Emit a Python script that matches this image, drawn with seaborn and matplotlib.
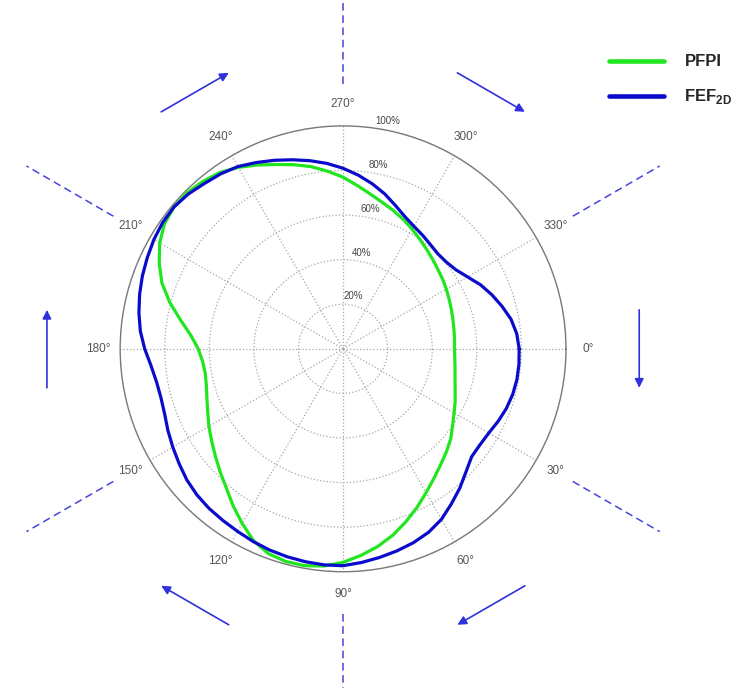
import numpy as np
import pandas as pd
import matplotlib.pyplot as plt
import seaborn as sns
from matplotlib.lines import Line2D

# values (angle in degrees, clockwise from 0 at the right; radius in %)
pfpi_deg = list(range(0, 360, 5))
pfpi_pct = [50, 50.3, 51, 52, 53.5, 55.5, 57.5, 60, 63, 65.5, 68, 71,
            74.5, 78.5, 82.5, 86.5, 90, 93, 95.8, 97.8, 98.8, 98.8, 97.8, 95,
            90.5, 86, 81.5, 78, 74.8, 72, 69.5, 67, 65, 63.5, 62.8, 63.3,
            65, 68.5, 74, 80.5, 86.5, 91, 95, 97.8, 99, 99, 98, 96.5,
            94, 91, 88, 85.5, 83, 80, 77, 73.5, 70.5, 68, 66, 64,
            62, 60, 58.3, 56.8, 55.5, 54.5, 53.5, 52.5, 51.7, 51, 50.5, 50.2]

fef_deg = list(range(0, 360, 5))
fef_pct = [79, 79.2, 79.2, 78.8, 78, 76.8, 75.5, 75, 75.3, 78, 81.5, 84.8,
           88.3, 90.8, 92.5, 93.8, 95, 96.2, 97.3, 97.3, 97, 96.6, 96.1, 95.4,
           94.6, 94, 93.5, 92.7, 91.5, 89.8, 88.2, 86.7, 85.2, 84.6, 85, 86.5,
           89, 91.3, 93, 94.5, 95.8, 96.9, 98, 98.8, 99, 98.2, 96.8, 95.8,
           94.4, 92.2, 90, 87.8, 85.7, 83.5, 81, 78.2, 75.2, 72, 68.5, 65.5,
           63.5, 62.2, 61, 60.2, 60.5, 61.8, 64.5, 68, 71, 73.8, 76.5, 78.2]

series_names = ['PFPI', 'FEF2D']
series_labels = ['PFPI', r'$\mathbf{FEF}_{\mathbf{2D}}$']
series_colors = ['#1fe61f', '#0b0bcc']
theta_ticks = list(range(0, 360, 30))
r_ticks = [20, 40, 60, 80, 100]
r_tick_labels = ['20%', '40%', '60%', '80%', '100%']
dash_angles = [30, 90, 150, 210, 270, 330]
arrow_angles = [0, 60, 120, 180, 240, 300]

sns.set_theme(style='white')
plt.rcParams['font.family'] = ['Liberation Sans', 'DejaVu Sans']
plt.rcParams['mathtext.fontset'] = 'custom'
plt.rcParams['mathtext.rm'] = 'Liberation Sans'
plt.rcParams['mathtext.bf'] = 'Liberation Sans:bold'


def closed(deg, pct, name):
    d = list(deg) + [deg[0] + 360]
    p = list(pct) + [pct[0]]
    return pd.DataFrame({'theta': np.deg2rad(d), 'r': p, 'series': name})


df = pd.concat([closed(pfpi_deg, pfpi_pct, 'PFPI'),
                closed(fef_deg, fef_pct, 'FEF2D')], ignore_index=True)

fig = plt.figure(figsize=(7.45, 6.88), dpi=100)
ax = fig.add_axes([0.161, 0.169, 0.599, 0.648], projection='polar')
ax.set_theta_zero_location('E')
ax.set_theta_direction(-1)

sns.lineplot(data=df, x='theta', y='r', hue='series', palette=dict(zip(series_names, series_colors)),
             sort=False, estimator=None, lw=2.3, legend=False, ax=ax, zorder=3)

ax.set_ylim(0, 100)
ax.set_yticks(r_ticks)
ax.set_yticklabels([])
ax.set_xticks(np.deg2rad(theta_ticks))
ax.set_xticklabels([f'{t}°' for t in theta_ticks], fontsize=8.5, color='#555555')
ax.tick_params(axis='x', pad=3)
ax.grid(True, color='#a8a8a8', linestyle=':', linewidth=0.9)
ax.spines['polar'].set_color('#7a7a7a')
ax.spines['polar'].set_linewidth(1.0)
ax.set_xlabel('')
ax.set_ylabel('')

for r, lab in zip(r_ticks, r_tick_labels):
    ax.text(np.deg2rad(281), r + 4, lab, ha='center', va='center', fontsize=7, color='#444444')

# dashed radial markers outside the circle
for a in dash_angles:
    ax.plot([np.deg2rad(a)] * 2, [119, 164], color='#4545dd', lw=1.1, dashes=(5, 3), clip_on=False)

# clockwise arrows between them
for a in arrow_angles:
    ax.annotate('', xy=(np.deg2rad(a + 7.5), 134), xytext=(np.deg2rad(a - 7.5), 134),
                arrowprops=dict(arrowstyle='-|>', color='#3030dd', lw=1.2, mutation_scale=13,
                                shrinkA=0, shrinkB=0),
                annotation_clip=False)

handles = [Line2D([], [], color=c, lw=3.3) for c in series_colors]
fig.legend(handles, series_labels, loc='upper left', bbox_to_anchor=(0.818, 0.921), frameon=False,
           prop={'weight': 'bold', 'size': 12}, handlelength=3.3, handletextpad=1.2,
           labelspacing=1.08, borderaxespad=0, borderpad=0)

fig.savefig('out.png', dpi=100)
plt.close()
